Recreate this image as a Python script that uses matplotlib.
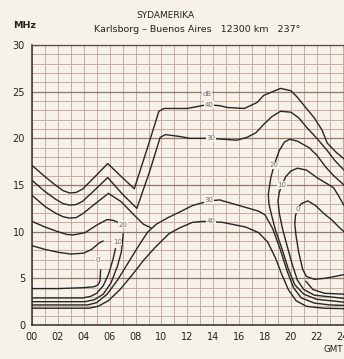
import matplotlib
matplotlib.use('Agg')
import matplotlib.pyplot as plt

# ---------------- data (hour GMT, MHz) ----------------
title_main = "SYDAMERIKA"
title_sub = "Karlsborg – Buenos Aires   12300 km   237°"
x_ticks = list(range(0, 25, 2))
x_tick_labels = ["00", "02", "04", "06", "08", "10", "12", "14", "16", "18", "20", "22", "24"]
y_ticks = [0, 5, 10, 15, 20, 25, 30]

# upper curves
c40_upper = [(0, 17.1), (1, 15.9), (1.8, 15.0), (2.4, 14.4), (2.9, 14.15), (3.4, 14.2), (3.9, 14.55),
             (4.8, 15.8), (5.85, 17.3), (6.9, 15.9), (7.9, 14.6), (8.9, 18.9), (9.8, 22.9),
             (10.2, 23.2), (12.0, 23.2), (13.5, 23.6), (14.5, 23.5), (15.1, 23.3), (16.4, 23.2),
             (17.4, 23.85), (17.9, 24.6), (18.5, 24.95), (19.2, 25.35), (20.0, 25.1), (20.5, 24.4),
             (21.2, 23.2), (21.8, 22.2), (22.4, 20.9), (22.8, 19.5), (23.5, 18.5), (24.1, 17.8)]
c30_upper = [(0, 15.5), (1, 14.3), (1.8, 13.5), (2.4, 13.0), (2.9, 12.85), (3.4, 12.9), (3.9, 13.25),
             (4.8, 14.4), (5.85, 15.8), (7.0, 14.0), (8.1, 12.5), (9.1, 16.5), (9.9, 20.1),
             (10.3, 20.4), (11.4, 20.2), (12.2, 20.0), (13.8, 20.0), (15.8, 19.8), (16.6, 20.1),
             (17.3, 20.6), (17.9, 21.5), (18.5, 22.3), (19.2, 22.9), (20.0, 22.8), (20.6, 22.2),
             (21.2, 21.2), (22.0, 20.0), (22.8, 18.7), (23.4, 17.6), (24.1, 16.6)]
c_night_c = [(0, 13.9), (1, 12.7), (1.8, 12.0), (2.4, 11.6), (2.9, 11.45), (3.4, 11.5), (3.9, 11.9),
             (4.8, 12.9), (5.9, 14.1), (6.9, 13.2), (7.8, 11.9), (8.6, 10.8), (9.2, 10.4)]
c_night_d = [(0, 11.1), (1, 10.5), (2, 10.0), (2.7, 9.7), (3.2, 9.65), (4.1, 9.9), (5.0, 10.7),
             (5.8, 11.3), (6.3, 11.2), (6.7, 10.95)]
c_night_e = [(0, 8.5), (1, 8.1), (2, 7.8), (3, 7.6), (4, 7.7), (4.6, 8.1), (5.2, 8.8), (5.5, 9.0)]
c_night_f = [(0, 3.9), (2, 3.9), (4, 4.0), (4.8, 4.1), (5.1, 4.3), (5.25, 4.7), (5.3, 5.9)]

# low bundle rising in the morning
c_low_g1 = [(0, 2.9), (3.9, 2.9), (4.5, 3.05), (5.0, 3.4), (5.5, 4.2), (5.9, 5.4), (6.25, 7.0), (6.45, 8.2)]
c_low_g2 = [(0, 2.5), (4.1, 2.5), (4.8, 2.7), (5.5, 3.3), (6.1, 4.5), (6.6, 6.3), (6.9, 7.8), (7.05, 9.8)]
c30_lower = [(0, 2.15), (4.3, 2.15), (5.0, 2.4), (5.8, 3.3), (6.6, 4.8), (7.4, 6.6), (8.2, 8.4),
             (8.9, 9.9), (9.6, 10.8), (10.5, 11.5), (11.4, 12.1), (12.4, 12.8), (13.7, 13.3),
             (14.5, 13.4), (16.0, 12.8), (17.5, 12.2), (18.0, 11.8), (18.6, 10.3), (19.2, 8.0),
             (19.7, 5.8), (20.2, 4.0), (20.8, 2.9), (21.8, 2.35), (23.0, 2.15), (24.1, 2.1)]
c40_lower = [(0, 1.8), (4.4, 1.8), (5.1, 2.0), (5.9, 2.6), (6.8, 3.8), (7.7, 5.3), (8.6, 6.9),
             (9.5, 8.3), (10.6, 9.8), (11.4, 10.4), (12.4, 11.0), (13.2, 11.1), (14.7, 11.0),
             (16.5, 10.5), (17.5, 9.9), (18.2, 8.9), (18.8, 7.2), (19.3, 5.4), (19.8, 3.8),
             (20.4, 2.6), (21.2, 2.0), (22.5, 1.8), (24.1, 1.75)]

# evening arcs
c_arc20 = [(24.1, 2.45), (22.0, 2.75), (21.0, 3.3), (20.3, 4.3), (19.8, 6.0), (19.3, 8.2), (18.8, 10.2),
           (18.5, 11.8), (18.3, 13.0), (18.25, 14.0), (18.45, 15.8), (18.7, 17.1), (19.1, 18.7),
           (19.5, 19.6), (19.9, 19.9), (20.5, 19.7), (21.4, 19.0), (22.0, 18.2), (22.7, 16.9),
           (23.3, 16.0), (24.1, 15.0)]
c_arc10 = [(24.1, 2.85), (21.8, 3.2), (21.0, 3.8), (20.5, 4.8), (20.1, 6.5), (19.7, 8.5), (19.35, 10.3),
           (19.1, 12.0), (19.0, 13.3), (19.1, 14.2), (19.3, 15.0), (19.6, 15.9), (20.0, 16.5),
           (20.5, 16.8), (21.2, 16.6), (22.0, 15.8), (22.6, 15.3), (23.3, 14.7), (23.7, 13.8), (24.1, 12.8)]
c_arc0 = [(24.1, 5.4), (23.4, 5.2), (22.6, 5.0), (21.8, 4.9), (21.2, 5.2), (20.9, 6.0), (20.6, 7.8),
          (20.4, 9.5), (20.3, 10.8), (20.35, 11.7), (20.5, 12.4), (20.8, 13.0), (21.3, 13.3),
          (21.9, 12.8), (22.5, 12.0), (23.2, 11.2), (23.7, 10.5), (24.1, 10.0)]
c_evening_branch = [(21.15, 4.7), (21.7, 3.8), (22.6, 3.4), (24.1, 3.3)]

# curve labels (text, hour, MHz)
curve_labels = [("dB", 13.5, 24.8), ("40", 13.7, 23.6), ("30", 13.8, 20.0),
                ("20", 18.7, 17.1), ("10", 19.3, 15.0), ("0", 20.5, 12.4),
                ("20", 7.05, 10.75), ("10", 6.6, 8.9), ("0", 5.1, 7.0),
                ("30", 13.7, 13.35), ("40", 13.85, 11.15)]

all_curves = [c40_upper, c30_upper, c_night_c, c_night_d, c_night_e, c_night_f,
              c_low_g1, c_low_g2, c30_lower, c40_lower, c_arc20, c_arc10, c_arc0, c_evening_branch]

# ---------------- drawing ----------------
BG = '#f6f2ea'
GRID = '#c9aaa0'
GRID_MAJ = '#967468'
INK = '#262626'
W, H = 344, 359

fig = plt.figure(figsize=(W / 100, H / 100), dpi=100, facecolor=BG)
ax = fig.add_axes([32 / W, 1 - 325 / H, 1 - 32 / W, (325 - 45) / H])
ax.set_facecolor(BG)
ax.set_xlim(0, 24.1)
ax.set_ylim(0, 30)

ax.set_xticks(x_ticks)
ax.set_xticklabels(x_tick_labels)
ax.set_xticks(range(0, 25), minor=True)
ax.set_yticks(y_ticks)
ax.set_yticks(range(0, 31), minor=True)
ax.grid(which='both', axis='x', color=GRID, lw=0.7)
ax.grid(which='minor', axis='y', color=GRID, lw=0.7)
ax.grid(which='major', axis='y', color=GRID_MAJ, lw=0.9)
ax.set_axisbelow(True)
ax.tick_params(which='both', length=0, labelsize=7, colors='#222222')
ax.tick_params(axis='x', pad=5)
ax.tick_params(axis='y', pad=5)

ax.spines['right'].set_visible(False)
for s in ['left', 'bottom']:
    ax.spines[s].set_color('#303030')
    ax.spines[s].set_linewidth(1.1)
ax.spines['top'].set_color('#5a4a44')
ax.spines['top'].set_linewidth(0.9)

for c in all_curves:
    xs = [p[0] for p in c]
    ys = [p[1] for p in c]
    ax.plot(xs, ys, color=INK, lw=1.0, solid_joinstyle='round', solid_capstyle='round', zorder=3)

for t, hx, fy in curve_labels:
    ax.text(hx, fy, t, fontsize=5, color='#707070', ha='center', va='center', zorder=5,
            bbox=dict(boxstyle='square,pad=0.08', fc=BG, ec='none'))

fig.text(165 / W, 1 - 15 / H, title_main, fontsize=6.5, ha='center', va='center', color='#222222')
fig.text(197 / W, 1 - 30 / H, title_sub, fontsize=6.8, ha='center', va='center', color='#222222')
fig.text(25 / W, 1 - 25 / H, "MHz", fontsize=6.8, ha='center', va='center', color='#222222', fontweight='bold')
fig.text(323 / W, 1 - 350 / H, "GMT", fontsize=6.3, ha='left', va='center', color='#222222')

fig.savefig('out.png', dpi=100, facecolor=BG)
